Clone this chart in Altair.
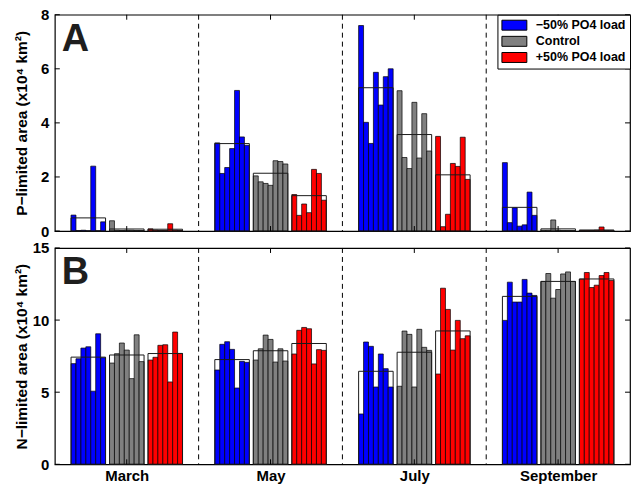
import altair as alt
import pandas as pd

months = ["March", "May", "July", "September"]
scenarios = ["−50% PO4 load", "Control", "+50% PO4 load"]
colors = ["#0000ff", "#808080", "#ff0000"]

# P-limited area (x10^4 km^2): one list of 7 bars per month (March, May, July, September)
p_minus50 = [
    [0.59, 0.02, 0.03, 0.01, 2.40, 0.01, 0.34],
    [3.26, 2.13, 2.35, 3.05, 5.20, 3.48, 3.17],
    [7.60, 4.02, 3.24, 5.87, 4.66, 5.71, 6.00],
    [2.53, 0.31, 0.86, 0.18, 0.23, 1.44, 0.58],
]
p_control = [
    [0.38, 0.03, 0.02, 0.03, 0.03, 0.02, 0.02],
    [2.04, 1.82, 1.76, 1.69, 2.60, 2.57, 2.48],
    [5.19, 2.72, 2.31, 4.76, 2.70, 4.34, 2.96],
    [0.03, 0.03, 0.41, 0.03, 0.02, 0.02, 0.02],
]
p_plus50 = [
    [0.08, 0.03, 0.02, 0.02, 0.27, 0.03, 0.02],
    [1.35, 0.58, 1.00, 0.68, 2.28, 2.13, 1.14],
    [3.50, 0.16, 0.62, 2.50, 2.39, 3.47, 1.91],
    [0.02, 0.02, 0.02, 0.03, 0.15, 0.02, 0.01],
]

# N-limited area (x10^4 km^2)
n_minus50 = [
    [6.98, 7.32, 8.06, 8.15, 5.07, 9.05, 7.39],
    [6.54, 8.32, 8.50, 7.97, 5.29, 7.14, 7.07],
    [3.49, 8.48, 8.18, 5.36, 7.65, 6.63, 5.36],
    [9.98, 12.63, 11.25, 11.25, 12.82, 11.87, 11.71],
]
n_control = [
    [7.02, 7.67, 8.41, 7.92, 5.94, 8.98, 7.12],
    [7.23, 8.01, 8.96, 8.66, 7.09, 8.01, 7.16],
    [5.41, 9.24, 9.01, 5.36, 9.36, 8.11, 7.90],
    [12.68, 13.23, 11.52, 12.12, 13.20, 13.34, 12.68],
]
n_plus50 = [
    [7.23, 7.42, 8.25, 8.29, 5.71, 9.17, 7.69],
    [7.65, 9.29, 9.49, 9.40, 6.96, 7.95, 7.90],
    [6.26, 12.21, 10.74, 7.92, 9.98, 8.71, 8.91],
    [12.84, 13.30, 12.26, 12.42, 13.09, 13.30, 12.75],
]

# layout (in month units; each month spans 1 unit on the x scale)
GROUP_OFFSETS = [0.1127, 0.3804, 0.648]
BAR_W = 0.0343
W = 577
H = 217
FONT = "Liberation Sans"


def build(series):
    rows = []
    for i, m in enumerate(months):
        for j, s in enumerate(scenarios):
            g0 = i + GROUP_OFFSETS[j]
            vals = series[j][i]
            for k, v in enumerate(vals):
                rows.append(dict(month=m, scenario=s, value=v,
                                 x0=g0 + k * BAR_W, x1=g0 + (k + 1) * BAR_W,
                                 g0=g0, g1=g0 + len(vals) * BAR_W))
    return pd.DataFrame(rows)


def panel(df, ymax, ystep, title, letter, title_pad, show_x_labels, show_legend):
    xscale = alt.Scale(domain=[0, 4], nice=False, zero=False)
    yscale = alt.Scale(domain=[0, ymax], nice=False)
    tick_vals = list(range(0, ymax + 1, ystep))
    centers = [i + 0.5 for i in range(len(months))]

    if show_x_labels:
        label_expr = "[" + ",".join("'%s'" % m for m in months) + "][round(datum.value - 0.5)]"
        xaxis = alt.Axis(values=centers, labelExpr=label_expr, ticks=False, domain=False,
                         grid=False, title=None, labelPadding=4, labelFontSize=15)
    else:
        xaxis = None
    yaxis = alt.Axis(values=tick_vals, ticks=False, domain=False, grid=False, title=title,
                     titlePadding=title_pad, labelPadding=6)

    def X(field):
        return alt.X(field, scale=xscale, axis=xaxis)

    def Y(field):
        return alt.Y(field, scale=yscale, axis=yaxis)

    if show_legend:
        legend = alt.Legend(title=None, orient="top-right", offset=0, strokeColor="black",
                            fillColor="white", padding=4,
                            symbolType="M-2.083,-0.833H2.083V0.833H-2.083Z", symbolSize=144,
                            symbolOffset=6.5, symbolStrokeColor="black", symbolStrokeWidth=1,
                            symbolOpacity=1, labelFont=FONT, labelFontWeight="bold",
                            labelFontSize=12.5, labelColor="black", labelOffset=15,
                            rowPadding=1.2)
    else:
        legend = None
    color = alt.Color("scenario:N", scale=alt.Scale(domain=scenarios, range=colors),
                      legend=legend)

    bars = alt.Chart(df).mark_bar(stroke="black", strokeWidth=0.7, opacity=1).encode(
        x=X("x0:Q"), x2="x1:Q", y=Y("value:Q"), y2=alt.datum(0), color=color,
    )
    boxes = alt.Chart(df).transform_aggregate(
        value="mean(value)", groupby=["g0", "g1"]
    ).mark_bar(fillOpacity=0, stroke="#1a1a1a", strokeWidth=1).encode(
        x=X("g0:Q"), x2="g1:Q", y=Y("value:Q"), y2=alt.datum(0),
    )
    dividers = alt.Chart(pd.DataFrame({"x0": [1, 2, 3]})).mark_rule(
        color="black", strokeDash=[5, 4], strokeWidth=1
    ).encode(x=X("x0:Q"))

    ytick_df = pd.DataFrame({"value": tick_vals})
    yticks_l = alt.Chart(ytick_df).mark_rule(color="black").encode(
        y=Y("value:Q"), x=alt.value(0), x2=alt.value(5))
    yticks_r = alt.Chart(ytick_df).mark_rule(color="black").encode(
        y=Y("value:Q"), x=alt.value(W - 5), x2=alt.value(W))
    xtick_df = pd.DataFrame({"x0": centers})
    xticks_b = alt.Chart(xtick_df).mark_rule(color="black").encode(
        x=X("x0:Q"), y=alt.value(H - 5), y2=alt.value(H))
    xticks_t = alt.Chart(xtick_df).mark_rule(color="black").encode(
        x=X("x0:Q"), y=alt.value(0), y2=alt.value(5))

    label = alt.Chart(pd.DataFrame({"t": [letter]})).mark_text(
        font=FONT, fontSize=38, fontWeight="bold", align="left", baseline="alphabetic",
        color="#1e1e1e"
    ).encode(text="t:N", x=alt.value(7), y=alt.value(36))

    return alt.layer(bars, boxes, dividers, yticks_l, yticks_r, xticks_b, xticks_t, label
                     ).properties(width=W, height=H)


p_df = build([p_minus50, p_control, p_plus50])
n_df = build([n_minus50, n_control, n_plus50])

top = panel(p_df, 8, 2, "P−limited area (x10⁴ km²)", "A", 11.5, False, True)
bottom = panel(n_df, 15, 5, "N−limited area (x10⁴ km²)", "B", 3, True, False)

chart = alt.vconcat(top, bottom, spacing=0).resolve_scale(color="independent").properties(
    padding={"left": 13, "top": 6, "right": 0, "bottom": 0}
).configure_axis(
    labelFont=FONT, titleFont=FONT, labelFontWeight="bold", titleFontWeight="bold",
    labelFontSize=15, titleFontSize=15.5, labelColor="black", titleColor="black"
).configure_view(stroke="black", strokeWidth=1.2)

chart.save("out.html", embed_options={"renderer": "svg", "actions": False})
